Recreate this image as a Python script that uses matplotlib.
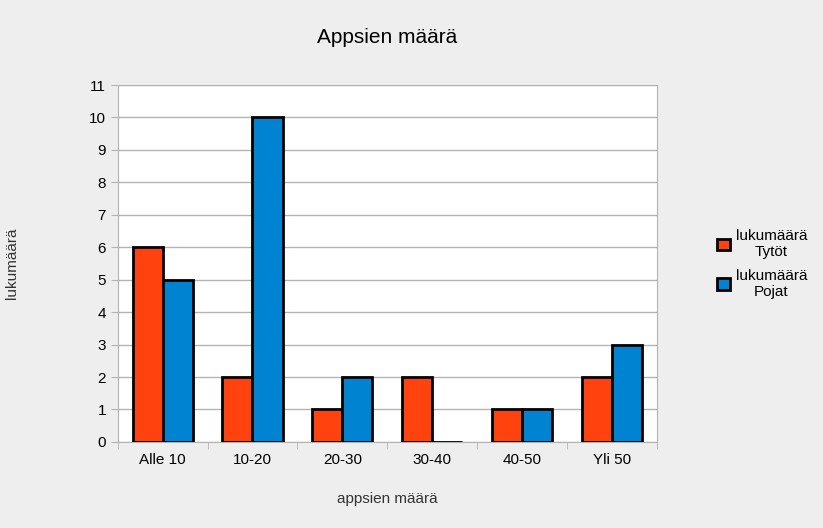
import numpy as np
import matplotlib.pyplot as plt

plt.rcParams['font.family'] = ['Liberation Sans', 'DejaVu Sans']

categories = ['Alle 10', '10-20', '20-30', '30-40', '40-50', 'Yli 50']
tytot = [6, 2, 1, 2, 1, 2]
pojat = [5, 10, 2, 0, 1, 3]
labels = ['lukumäärä\nTytöt', 'lukumäärä\nPojat']

fig = plt.figure(figsize=(8.23, 5.28), dpi=100, facecolor='#eeeeee')
ax = fig.add_axes([0.143, 0.163, 0.655, 0.676])

x = np.arange(len(categories))
w = 0.335
ax.bar(x - w / 2, tytot, w, color='#ff420e', edgecolor='black', linewidth=2,
       label=labels[0], zorder=3)
ax.bar(x + w / 2, pojat, w, color='#0084d1', edgecolor='black', linewidth=2,
       label=labels[1], zorder=3)

ax.set_xlim(-0.5, len(categories) - 0.5)
ax.set_ylim(0, 11)
ax.set_yticks(range(12))
ax.set_xticks(x)
ax.set_xticklabels(categories)
ax.set_xticks(np.arange(-0.5, len(categories)), minor=True)
ax.tick_params(axis='x', which='major', length=0, labelsize=11, pad=8)
ax.tick_params(axis='x', which='minor', length=5, color='#b3b3b3')
ax.tick_params(axis='y', length=5, color='#b3b3b3', labelsize=11)
ax.yaxis.grid(True, color='#b3b3b3', linewidth=1, zorder=0)
for s in ax.spines.values():
    s.set_color('#b3b3b3')

ax.set_title('Appsien määrä', fontsize=15, pad=30)
ax.set_xlabel('appsien määrä', fontsize=11, color='#333333', labelpad=18)
ax.set_ylabel('lukumäärä', fontsize=11, color='#333333', labelpad=50)

leg = fig.legend(loc='center left', bbox_to_anchor=(0.855, 0.5), frameon=False,
                 fontsize=11, handlelength=0.8, handleheight=0.8,
                 handletextpad=0.4, labelspacing=0.6)
for t in leg.get_texts():
    t.set_multialignment('center')

fig.savefig('out.png', dpi=100, facecolor=fig.get_facecolor())
